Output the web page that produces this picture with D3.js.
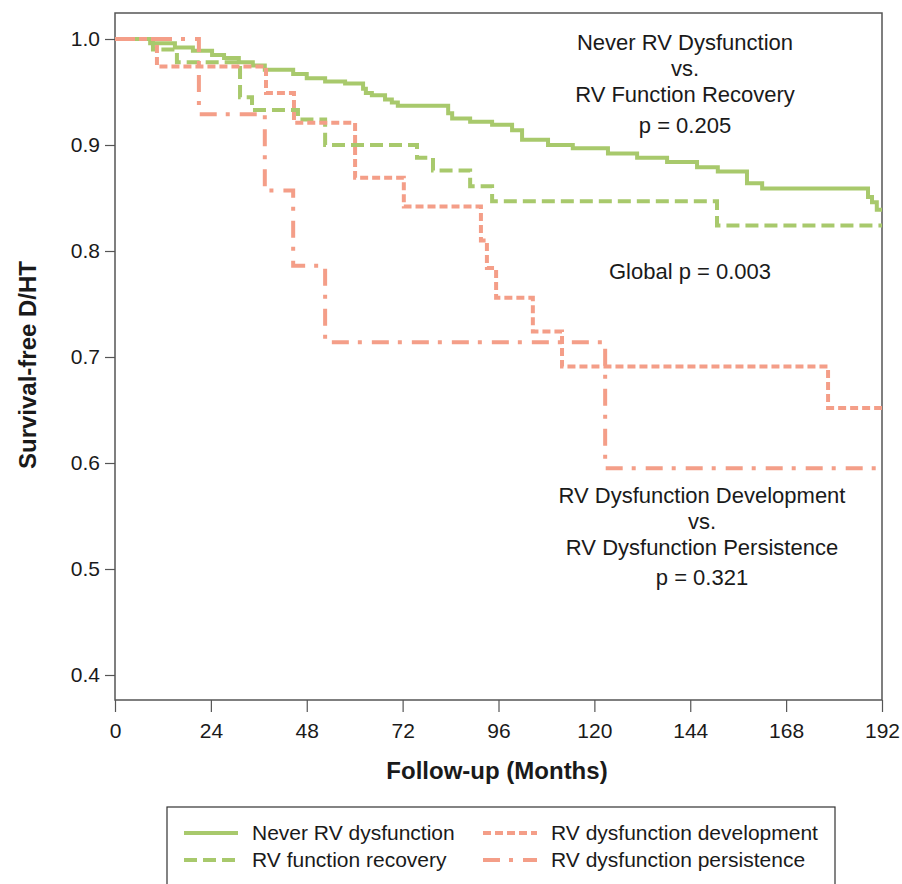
<!DOCTYPE html>
<meta charset="utf-8">
<style>
body { margin: 0; background: #fff; }
svg { font-family: "Liberation Sans", Arial, sans-serif; }
.axis text { font-size: 21px; fill: #1a1a1a; }
.axis line { stroke: #555; stroke-width: 1.2; }
.axis path { display: none; }
.note { font-size: 22px; fill: #1a1a1a; text-anchor: middle; }
.title { font-size: 24px; font-weight: bold; fill: #1a1a1a; text-anchor: middle; }
.legend text { font-size: 21px; fill: #1a1a1a; }
</style>

<div id="km"></div>
<script src="https://d3js.org/d3.v7.min.js"></script>
<script>
// Kaplan-Meier curves (months, survival-free D/HT)
var neverTime = [0, 8.8, 15.0, 19.5, 24.3, 27.3, 31.0, 34.5, 37.5, 44.6, 48.0, 52.6, 57.6, 62.1, 62.8,
  64.3, 67.6, 69.3, 70.8, 83.4, 84.4, 88.9, 94.4, 99.4, 101.9, 108.4, 114.6, 123.4, 130.7, 138.2,
  145.7, 150.9, 158.2, 162.0, 188.5, 189.5, 190.7, 192];
var neverSurv = [1.0, 0.996, 0.992, 0.989, 0.985, 0.982, 0.978, 0.975, 0.971, 0.967, 0.963, 0.960, 0.958, 0.953, 0.949,
  0.947, 0.943, 0.940, 0.937, 0.930, 0.925, 0.922, 0.919, 0.914, 0.905, 0.900, 0.897, 0.892, 0.888, 0.884,
  0.879, 0.875, 0.864, 0.859, 0.851, 0.846, 0.839, 0.839];

var recoveryTime = [0, 9.5, 15.5, 31.3, 34.3, 45.8, 52.6, 75.6, 79.6, 88.9, 94.4, 150.7, 192];
var recoverySurv = [1.0, 0.990, 0.978, 0.945, 0.933, 0.924, 0.900, 0.888, 0.876, 0.861, 0.847, 0.824, 0.824];

var developmentTime = [0, 10.5, 37.8, 44.8, 60.1, 72.3, 91.6, 93.1, 95.4, 104.6, 111.9, 178.5, 192];
var developmentSurv = [1.0, 0.974, 0.949, 0.921, 0.869, 0.842, 0.810, 0.784, 0.756, 0.724, 0.691, 0.652, 0.652];

var persistenceTime = [0, 21.0, 37.5, 44.6, 52.6, 122.7, 192];
var persistenceSurv = [1.0, 0.929, 0.857, 0.786, 0.714, 0.595, 0.595];

var xTicks = [0, 24, 48, 72, 96, 120, 144, 168, 192];
var yTicks = [0.4, 0.5, 0.6, 0.7, 0.8, 0.9, 1.0];

var seriesNames = ["Never RV dysfunction", "RV function recovery", "RV dysfunction development", "RV dysfunction persistence"];

var w = 902, h = 884,
  plotLeft = 115, plotRight = 882, plotTop = 13, plotBottom = 700;

var green = "#a8c96c", salmon = "#f49e88";

var series = [
  { name: seriesNames[0], t: neverTime, s: neverSurv, color: green, dash: null },
  { name: seriesNames[1], t: recoveryTime, s: recoverySurv, color: green, dash: "13,6" },
  { name: seriesNames[2], t: developmentTime, s: developmentSurv, color: salmon, dash: "8,4" },
  { name: seriesNames[3], t: persistenceTime, s: persistenceSurv, color: salmon, dash: "17,9,4,10" }
];

var svg = d3.select("#km")
  .append("svg")
  .attr("width", w)
  .attr("height", h);

var x = d3.scaleLinear().domain([0, 192]).range([plotLeft, plotRight]),
    y = d3.scaleLinear().domain([0.4, 1.0]).range([675, 39]);

// axes
svg.append("g")
  .attr("class", "axis")
  .attr("transform", "translate(0," + plotBottom + ")")
  .call(d3.axisBottom(x).tickValues(xTicks).tickSize(12).tickPadding(11));

svg.append("g")
  .attr("class", "axis")
  .attr("transform", "translate(" + plotLeft + ",0)")
  .call(d3.axisLeft(y).tickValues(yTicks).tickFormat(d3.format(".1f")).tickSize(10).tickPadding(5));

// plot frame
svg.append("rect")
  .attr("x", plotLeft)
  .attr("y", plotTop)
  .attr("width", plotRight - plotLeft)
  .attr("height", plotBottom - plotTop)
  .attr("fill", "none")
  .attr("stroke", "#555")
  .attr("stroke-width", 1.5);

// curves
var line = d3.line()
  .x(function (d) { return x(d[0]); })
  .y(function (d) { return y(d[1]); })
  .curve(d3.curveStepAfter);

svg.selectAll(".km")
  .data(series)
  .enter()
  .append("path")
  .attr("class", "km")
  .attr("fill", "none")
  .attr("stroke", function (d) { return d.color; })
  .attr("stroke-width", 4)
  .attr("stroke-dasharray", function (d) { return d.dash; })
  .attr("d", function (d) { return line(d3.zip(d.t, d.s)); });

// annotations
function note(lines, cx, y0, gaps) {
  var yy = y0;
  lines.forEach(function (l, i) {
    svg.append("text").attr("class", "note").attr("x", cx).attr("y", yy).text(l);
    yy += gaps[i] || 0;
  });
}
note(["Never RV Dysfunction", "vs.", "RV Function Recovery", "p = 0.205"], 685, 50, [26, 26, 31]);
note(["Global p = 0.003"], 690, 279, []);
note(["RV Dysfunction Development", "vs.", "RV Dysfunction Persistence", "p = 0.321"], 702, 503, [26, 26, 30]);

// axis titles
svg.append("text")
  .attr("class", "title")
  .attr("x", 497)
  .attr("y", 779)
  .text("Follow-up (Months)");

svg.append("text")
  .attr("class", "title")
  .attr("transform", "translate(36,365) rotate(-90)")
  .text("Survival-free D/HT");

// legend
var legend = svg.append("g").attr("class", "legend");
legend.append("rect")
  .attr("x", 167).attr("y", 807)
  .attr("width", 668).attr("height", 100)
  .attr("fill", "none").attr("stroke", "#333").attr("stroke-width", 1.2);

var lx = [184, 483], ly = [833, 860];
series.forEach(function (d, i) {
  var col = i < 2 ? 0 : 1, row = i % 2;
  legend.append("line")
    .attr("x1", lx[col]).attr("x2", lx[col] + 54)
    .attr("y1", ly[row]).attr("y2", ly[row])
    .attr("stroke", d.color).attr("stroke-width", 4)
    .attr("stroke-dasharray", d.dash);
  legend.append("text")
    .attr("x", lx[col] + 68)
    .attr("y", ly[row] + 7)
    .text(d.name);
});
</script>
